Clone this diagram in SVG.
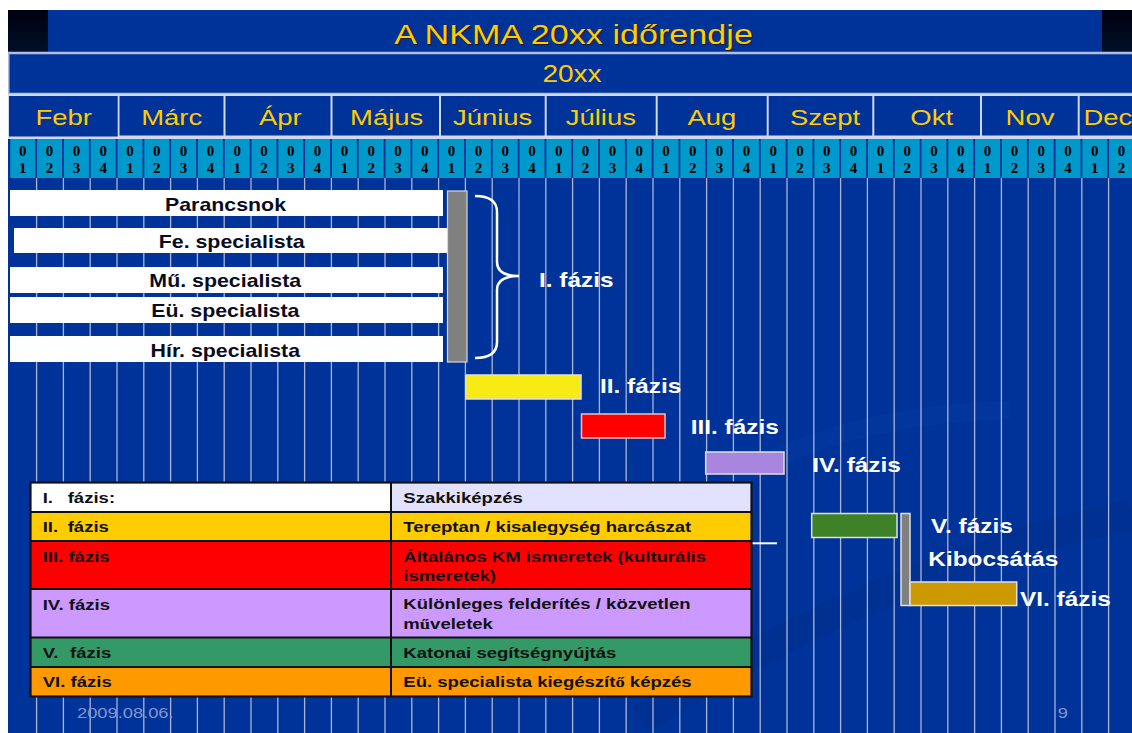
<svg xmlns="http://www.w3.org/2000/svg" width="1132" height="733" viewBox="0 0 1132 733">
<defs>
<linearGradient id="blk" x1="0" y1="0" x2="0" y2="1"><stop offset="0" stop-color="#000010"/><stop offset="1" stop-color="#001028"/></linearGradient>
<style>
.sans{font-family:"Liberation Sans",Arial,sans-serif}
.title{font-size:28px;fill:#FFCC00}
.shadow{font-size:28px;fill:#1a1a2a}
.year{font-size:23px;fill:#FFCC00}
.month{font-size:22.5px;fill:#FFCC00;text-anchor:middle}
.wk{font-family:"Liberation Serif","Times New Roman",serif;font-weight:bold;font-size:15px;fill:#000;text-anchor:middle}
.lbl{font-size:17.5px;font-weight:bold;fill:#0b0b1e;text-anchor:middle}
.ph{font-size:20px;font-weight:bold;fill:#fff}
.lg{font-size:15.2px;font-weight:bold;fill:#111}
.ft{font-size:15px;fill:#8595cc}
.bar{stroke:#e0e0e0;stroke-width:1.5}
.white{fill:#fff}
.sf{font-family:"Liberation Serif","Times New Roman",serif}
</style>
</defs>
<rect x="0" y="0" width="1132" height="733" fill="#fff"/>
<rect x="8" y="10" width="1124" height="723" fill="#003399"/>
<g id="swoosh" fill="none">
<path d="M600 640 Q 690 420 1010 410" stroke="#0a40aa" stroke-width="18" opacity="0.3"/>
<path d="M640 720 Q 900 560 1132 515" stroke="#002a88" stroke-width="30" opacity="0.35"/>
</g>
<g id="grid" stroke="#aab4d6" stroke-width="1.3" fill="none">
<path d="M36.6 178V733M63.4 178V733M90.2 178V733M117 178V733M143.8 178V733M170.6 178V733M197.4 178V733M224.2 178V733M251 178V733M277.8 178V733M304.6 178V733M331.4 178V733M358.2 178V733M385 178V733M411.8 178V733M438.6 178V733M465.4 178V733M492.2 178V733M519 178V733M545.8 178V733M572.6 178V733M599.4 178V733M626.2 178V733M653 178V733M679.8 178V733M706.6 178V733M733.4 178V733M760.2 178V733M787 178V733M813.8 178V733M840.6 178V733M867.4 178V733M894.2 178V733M921 178V733M947.8 178V733M974.6 178V733M1001.4 178V733M1028.2 178V733M1055 178V733M1081.8 178V733M1108.6 178V733"/>
</g>
<g id="header">
<rect x="8" y="10" width="40" height="42" fill="url(#blk)"/>
<rect x="1102" y="10" width="30" height="42" fill="url(#blk)"/>
<line x1="8" y1="52.5" x2="1132" y2="52.5" stroke="#b4bce0" stroke-width="1.5"/>
<text class="sans shadow" transform="matrix(1.22 0 0 1 575 45)" text-anchor="middle">A NKMA 20xx időrendje</text>
<text class="sans title" transform="matrix(1.22 0 0 1 573.5 43.5)" text-anchor="middle">A NKMA 20xx időrendje</text>
</g>
<g id="year-row">
<rect x="8.75" y="53.5" width="1124" height="40" fill="#003399" stroke="#b4bce0" stroke-width="1.5"/>
<text class="sans year" transform="matrix(1.22 0 0 1 572 82.3)" text-anchor="middle">20xx</text>
</g>
<g id="month-row">
<rect x="8" y="94" width="1124" height="45" fill="#d0d8ee"/>
<rect x="9" y="96" width="108.7" height="40.5" fill="#003399"/>
<rect x="119.5" y="96" width="104" height="39.5" fill="#003399"/>
<rect x="225.5" y="96" width="105" height="39.5" fill="#003399"/>
<rect x="332.5" y="96" width="106.5" height="39.5" fill="#003399"/>
<rect x="441" y="96" width="103.7" height="39.5" fill="#003399"/>
<rect x="546.7" y="96" width="109" height="39.5" fill="#003399"/>
<rect x="657.7" y="96" width="109" height="39.5" fill="#003399"/>
<rect x="768.7" y="96" width="103.6" height="39.5" fill="#003399"/>
<rect x="874.3" y="96" width="105.7" height="39.5" fill="#003399"/>
<rect x="982" y="96" width="95.7" height="39.5" fill="#003399"/>
<rect x="1079.7" y="96" width="53" height="39.5" fill="#003399"/>
<text class="sans month" transform="matrix(1.22 0 0 1 63.8 125)">Febr</text>
<text class="sans month" transform="matrix(1.22 0 0 1 171.7 125)">Márc</text>
<text class="sans month" transform="matrix(1.22 0 0 1 280.3 125)">Ápr</text>
<text class="sans month" transform="matrix(1.22 0 0 1 386.7 125)">Május</text>
<text class="sans month" transform="matrix(1.22 0 0 1 492.7 125)">Június</text>
<text class="sans month" transform="matrix(1.22 0 0 1 600.8 125)">Július</text>
<text class="sans month" transform="matrix(1.22 0 0 1 711.8 125)">Aug</text>
<text class="sans month" transform="matrix(1.22 0 0 1 825 125)">Szept</text>
<text class="sans month" transform="matrix(1.22 0 0 1 931.7 125)">Okt</text>
<text class="sans month" transform="matrix(1.22 0 0 1 1030 125)">Nov</text>
<text class="sans" style="font-size:22.5px;fill:#FFCC00" transform="matrix(1.22 0 0 1 1083.5 125)">Dec</text>
</g>
<g id="week-row">
<path fill="#0099CC" d="M10.3 139h25v39h-25zM37.1 139h25v39h-25zM63.9 139h25v39h-25zM90.7 139h25v39h-25zM117.5 139h25v39h-25zM144.3 139h25v39h-25zM171.1 139h25v39h-25zM197.9 139h25v39h-25zM224.7 139h25v39h-25zM251.5 139h25v39h-25zM278.3 139h25v39h-25zM305.1 139h25v39h-25zM331.9 139h25v39h-25zM358.7 139h25v39h-25zM385.5 139h25v39h-25zM412.3 139h25v39h-25zM439.1 139h25v39h-25zM465.9 139h25v39h-25zM492.7 139h25v39h-25zM519.5 139h25v39h-25zM546.3 139h25v39h-25zM573.1 139h25v39h-25zM599.9 139h25v39h-25zM626.7 139h25v39h-25zM653.5 139h25v39h-25zM680.3 139h25v39h-25zM707.1 139h25v39h-25zM733.9 139h25v39h-25zM760.7 139h25v39h-25zM787.5 139h25v39h-25zM814.3 139h25v39h-25zM841.1 139h25v39h-25zM867.9 139h25v39h-25zM894.7 139h25v39h-25zM921.5 139h25v39h-25zM948.3 139h25v39h-25zM975.1 139h25v39h-25zM1001.9 139h25v39h-25zM1028.7 139h25v39h-25zM1055.5 139h25v39h-25zM1082.3 139h25v39h-25zM1109.1 139h25v39h-25z"/>
<text class="wk" x="22.8 49.6 76.4 103.2 130 156.8 183.6 210.4 237.2 264 290.8 317.6 344.4 371.2 398 424.8 451.6 478.4 505.2 532 558.8 585.6 612.4 639.2 666 692.8 719.6 746.4 773.2 800 826.8 853.6 880.4 907.2 934 960.8 987.6 1014.4 1041.2 1068 1094.8 1121.6" y="156">000000000000000000000000000000000000000000</text>
<text class="wk" x="22.8 49.6 76.4 103.2 130 156.8 183.6 210.4 237.2 264 290.8 317.6 344.4 371.2 398 424.8 451.6 478.4 505.2 532 558.8 585.6 612.4 639.2 666 692.8 719.6 746.4 773.2 800 826.8 853.6 880.4 907.2 934 960.8 987.6 1014.4 1041.2 1068 1094.8 1121.6" y="173">123412341234123412341234123412341234123412</text>
</g>
<g id="role-parancsnok">
<rect x="10" y="190" width="433" height="26" class="white"/>
<text class="sans lbl" transform="matrix(1.22 0 0 1 225.5 210.7)">Parancsnok</text>
</g>
<g id="role-fe">
<rect x="14" y="228" width="434" height="25" class="white"/>
<text class="sans lbl" transform="matrix(1.22 0 0 1 231.7 248.3)">Fe. specialista</text>
</g>
<g id="role-mu">
<rect x="10" y="267" width="433" height="26" class="white"/>
<text class="sans lbl" transform="matrix(1.22 0 0 1 225.3 287.3)">Mű. specialista</text>
</g>
<g id="role-eu">
<rect x="10" y="297" width="433" height="26" class="white"/>
<text class="sans lbl" transform="matrix(1.22 0 0 1 225.3 317.3)">Eü. specialista</text>
</g>
<g id="role-hir">
<rect x="10" y="336" width="433" height="26" class="white"/>
<text class="sans lbl" transform="matrix(1.22 0 0 1 225.3 356.7)">Hír. specialista</text>
</g>
<g id="phase1">
<rect x="447.5" y="191" width="19.5" height="171" fill="#808080" stroke="#d8d8d8" stroke-width="1.2"/>
<text class="sans ph" transform="matrix(1.22 0 0 1 539 286.7)">I. fázis</text>
</g>
<g id="phase2">
<rect x="465.7" y="375" width="115.3" height="24" fill="#F8EA14" class="bar"/>
<text class="sans ph" transform="matrix(1.22 0 0 1 600 393.3)">II. fázis</text>
</g>
<g id="phase3">
<rect x="581.5" y="414" width="83.5" height="24" fill="#FF0000" stroke="#f0c0c0" stroke-width="1.5"/>
<text class="sans ph" transform="matrix(1.22 0 0 1 690.7 434)">III. fázis</text>
</g>
<g id="phase4">
<rect x="705.7" y="452" width="78.3" height="22" fill="#A885DE" class="bar"/>
<text class="sans ph" transform="matrix(1.22 0 0 1 812.3 471.5)">IV. fázis</text>
</g>
<g id="phase5">
<rect x="811.7" y="513.5" width="85.3" height="24" fill="#3F8127" class="bar"/>
<text class="sans ph" transform="matrix(1.22 0 0 1 931 533.3)">V. fázis</text>
</g>
<g id="kibocsatas">
<rect x="901" y="513.5" width="9" height="92" fill="#808080" class="bar"/>
<text class="sans ph" transform="matrix(1.22 0 0 1 928.3 566)">Kibocsátás</text>
</g>
<g id="phase6">
<rect x="910" y="582" width="106.7" height="23.5" fill="#CC9900" class="bar"/>
<text class="sans ph" transform="matrix(1.22 0 0 1 1020 606)">VI. fázis</text>
</g>
<g id="connectors" fill="none" stroke="#fff">
<path d="M475 196 Q497 196 497 212 L497 262 Q497 276 519 276 Q497 276 497 290 L497 342 Q497 358 475 358" stroke-width="2.5"/>
<line x1="752" y1="543.3" x2="777" y2="543.3" stroke-width="2"/>
</g>
<g id="legend">
<rect x="30.5" y="482.5" width="360.5" height="29.5" fill="#FFFFFF"/>
<rect x="391" y="482.5" width="360.5" height="29.5" fill="#E2E2FF"/>
<rect x="30.5" y="512" width="721" height="29" fill="#FFCC00"/>
<rect x="30.5" y="541" width="721" height="48" fill="#FF0000"/>
<rect x="30.5" y="589" width="721" height="48.5" fill="#CC99FF"/>
<rect x="30.5" y="637.5" width="721" height="29.5" fill="#339966"/>
<rect x="30.5" y="667" width="721" height="29.5" fill="#FF9900"/>
<path d="M30.5 512H751.5M30.5 541H751.5M30.5 589H751.5M30.5 637.5H751.5M30.5 667H751.5M391 482.5V696.5" stroke="#111" stroke-width="2" fill="none"/>
<rect x="30.5" y="482.5" width="721" height="214" fill="none" stroke="#111" stroke-width="2.2"/>
<text class="sans lg" transform="matrix(1.22 0 0 1 42.7 503.3)"><tspan x="0">I.</tspan><tspan x="20.5">fázis:</tspan></text>
<text class="sans lg" transform="matrix(1.22 0 0 1 42.7 532.3)"><tspan x="0">II.</tspan><tspan x="20.5">fázis</tspan></text>
<text class="sans lg" transform="matrix(1.22 0 0 1 42.7 561.7)">III. fázis</text>
<text class="sans lg" transform="matrix(1.22 0 0 1 42.7 609.8)">IV. fázis</text>
<text class="sans lg" transform="matrix(1.22 0 0 1 42.7 658.3)"><tspan x="0">V.</tspan><tspan x="22.4">fázis</tspan></text>
<text class="sans lg" transform="matrix(1.22 0 0 1 42.7 687.3)">VI. fázis</text>
<text class="sans lg" transform="matrix(1.22 0 0 1 403.3 503.3)">Szakkiképzés</text>
<text class="sans lg" transform="matrix(1.22 0 0 1 403.3 532.3)">Tereptan / kisalegység harcászat</text>
<text class="sans lg" transform="matrix(1.22 0 0 1 403.3 561.7)">Általános KM ismeretek (kulturális</text>
<text class="sans lg" transform="matrix(1.22 0 0 1 403.3 581)">ismeretek)</text>
<text class="sans lg" transform="matrix(1.22 0 0 1 403.3 609.3)">Különleges felderítés / közvetlen</text>
<text class="sans lg" transform="matrix(1.22 0 0 1 403.3 629.3)">m<tspan class="sf">ű</tspan>veletek</text>
<text class="sans lg" transform="matrix(1.22 0 0 1 403.3 658.3)">Katonai segítségnyújtás</text>
<text class="sans lg" transform="matrix(1.22 0 0 1 403.3 687.3)">Eü. specialista kiegészít<tspan class="sf">ő</tspan> képzés</text>
</g>
<g id="footer">
<text class="sans ft" transform="matrix(1.22 0 0 1 77 718)">2009.08.06.</text>
<text class="sans ft" transform="matrix(1.22 0 0 1 1057.7 718)">9</text>
</g>
</svg>
